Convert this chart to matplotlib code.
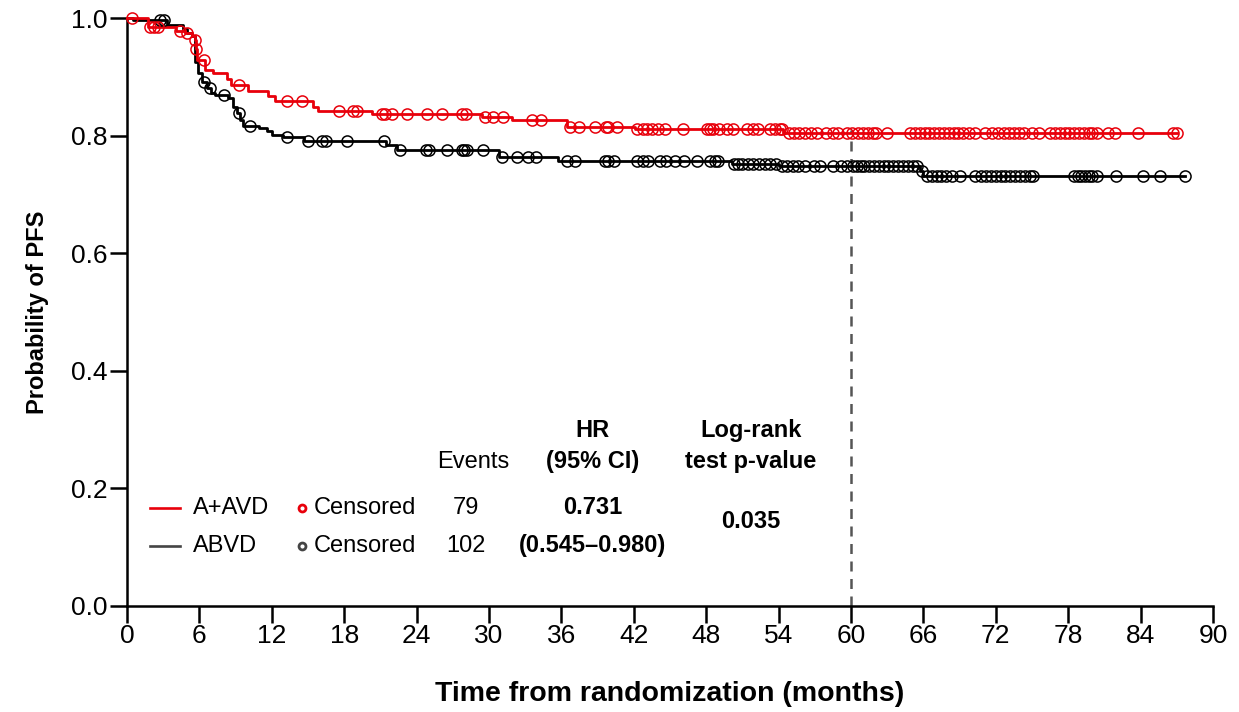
import numpy as np
import matplotlib.pyplot as plt

plt.rcParams['font.family'] = ['Liberation Sans', 'DejaVu Sans']

# step functions (time in months, survival probability)
red_t = [0, 1.7, 4.1, 4.8, 5.4, 5.6, 5.7, 5.8, 6.5, 7.1, 8.3, 8.6, 10.0, 11.7, 12.3,
         15.4, 15.8, 20.3, 29.4, 31.9, 36.5, 42.1, 54.4, 87.0]
red_s = [1.0, 0.984, 0.978, 0.974, 0.969, 0.963, 0.947, 0.929, 0.912, 0.907, 0.897,
         0.886, 0.876, 0.867, 0.858, 0.849, 0.842, 0.837, 0.832, 0.826, 0.815, 0.811,
         0.805, 0.805]
black_t = [0, 0.5, 3.3, 4.6, 5.0, 5.4, 5.6, 5.9, 6.2, 6.6, 7.0, 7.3, 8.4, 8.8, 9.1,
           9.4, 9.6, 10.9, 11.6, 12.0, 12.9, 14.7, 21.5, 22.4, 30.8, 35.7, 50.1, 54.0,
           65.7, 66.0, 87.7]
black_s = [1.0, 0.997, 0.988, 0.981, 0.975, 0.970, 0.926, 0.906, 0.892, 0.881, 0.872,
           0.869, 0.864, 0.849, 0.838, 0.827, 0.816, 0.813, 0.807, 0.801, 0.797, 0.790,
           0.784, 0.776, 0.764, 0.757, 0.752, 0.749, 0.740, 0.731, 0.731]

# censoring times
red_cens = [0.4, 1.9, 2.2, 2.6, 4.4, 5.0, 5.65, 5.75, 6.4, 9.3, 13.3, 14.5, 17.6, 18.7,
            19.1, 21.1, 21.4, 22.0, 23.2, 24.9, 26.1, 27.8, 28.1, 29.7, 30.3, 31.2,
            33.6, 34.3, 36.7, 37.5, 38.8, 39.7, 39.9, 40.6, 42.3, 42.8, 43.1, 43.5,
            44.0, 44.6, 46.1, 48.1, 48.3, 48.6, 49.1, 49.7, 50.2, 51.4, 51.9, 52.3,
            53.3, 53.7, 54.1, 54.3, 54.9, 55.3, 55.7, 56.2, 56.7, 57.2, 57.9, 58.5,
            58.9, 59.7, 60.1, 60.6, 61.0, 61.4, 61.8, 62.1, 63.0, 64.9, 65.3, 65.7,
            66.1, 66.5, 66.9, 67.3, 67.7, 68.1, 68.5, 68.9, 69.3, 69.8, 70.3, 71.1,
            71.7, 72.2, 72.7, 73.1, 73.5, 73.9, 74.3, 75.0, 75.6, 76.5, 76.9, 77.3,
            77.7, 78.1, 78.5, 78.9, 79.3, 79.7, 80.0, 80.4, 81.3, 81.9, 83.8, 86.7, 87.0]
black_cens = [2.7, 3.1, 6.4, 6.9, 8.0, 9.3, 10.2, 13.3, 15.0, 16.2, 16.5, 18.2, 21.3,
              22.6, 24.8, 25.0, 26.5, 27.8, 27.9, 28.2, 29.5, 31.1, 32.3, 33.2, 33.9,
              36.5, 37.1, 39.6, 39.9, 40.4, 42.3, 42.8, 43.2, 44.2, 44.7, 45.4, 46.2,
              47.2, 48.3, 48.7, 49.0, 50.3, 50.6, 51.0, 51.5, 51.9, 52.4, 52.9, 53.3,
              53.8, 54.3, 54.7, 55.2, 55.6, 56.2, 56.9, 57.4, 58.5, 59.2, 59.7, 60.2,
              60.5, 60.8, 61.1, 61.5, 61.9, 62.3, 62.7, 63.1, 63.5, 63.9, 64.3, 64.7,
              65.1, 65.5, 65.9, 66.3, 66.7, 67.1, 67.5, 67.9, 68.4, 69.0, 70.3, 70.8,
              71.2, 71.6, 72.0, 72.4, 72.8, 73.2, 73.6, 74.0, 74.4, 74.8, 75.1, 78.5,
              78.8, 79.1, 79.4, 79.7, 80.0, 80.4, 82.0, 84.2, 85.6, 87.7]

arms = ['A+AVD', 'ABVD']
events = ['79', '102']
hr_text = ['0.731', '(0.545\u20130.980)']
p_value = '0.035'

RED = '#e8000b'
BLACK = '#000000'


def surv_at(t_steps, s_steps, times):
    idx = np.searchsorted(t_steps, times, side='right') - 1
    return np.array(s_steps)[idx]


fig, ax = plt.subplots(figsize=(12.39, 7.12), dpi=100)
fig.subplots_adjust(left=0.1025, right=0.979, bottom=0.149, top=0.9747)

ax.axvline(60, ymin=0, ymax=0.81, color='#555555', linestyle=(0, (4, 3)), lw=1.8)

for t, s, cens, col in [(black_t, black_s, black_cens, BLACK), (red_t, red_s, red_cens, RED)]:
    ax.step(t, s, where='post', color=col, lw=2.0, clip_on=False, zorder=3)
    ax.plot(cens, surv_at(t, s, cens), 'o', mfc='none', mec=col, ms=8, mew=1.1,
            clip_on=False, zorder=4)

ax.set_xlim(0, 90)
ax.set_ylim(0, 1.0)
ax.set_xticks(np.arange(0, 91, 6))
ax.set_yticks(np.arange(0, 1.01, 0.2))
ax.set_yticklabels([f'{v:.1f}' for v in np.arange(0, 1.01, 0.2)])
ax.spines['top'].set_visible(False)
ax.spines['right'].set_visible(False)
for sp in ['left', 'bottom']:
    ax.spines[sp].set_linewidth(1.8)
ax.tick_params(axis='both', direction='out', width=1.8, labelsize=19)
ax.tick_params(axis='x', length=12, pad=1)
ax.tick_params(axis='y', length=12, pad=2)

ax.set_xlabel('Time from randomization (months)', fontsize=20.5, fontweight='bold', labelpad=24)
ax.set_ylabel('Probability of PFS', fontsize=17, fontweight='bold', labelpad=16)

# table-style legend
fs = 17
ax.text(28.7, 0.245, 'Events', ha='center', va='center', fontsize=fs)
ax.text(38.6, 0.299, 'HR', ha='center', va='center', fontsize=fs, fontweight='bold')
ax.text(38.6, 0.245, '(95% CI)', ha='center', va='center', fontsize=fs, fontweight='bold')
ax.text(51.7, 0.299, 'Log-rank', ha='center', va='center', fontsize=fs, fontweight='bold')
ax.text(51.7, 0.245, 'test p-value', ha='center', va='center', fontsize=fs, fontweight='bold')

row_y = [0.167, 0.102]
leg_cols = [RED, '#444444']
for i in range(2):
    y = row_y[i]
    ax.plot([1.9, 4.4], [y, y], color=leg_cols[i], lw=1.9)
    ax.text(5.5, y, arms[i], ha='left', va='center', fontsize=fs)
    ax.plot([14.5], [y], 'o', mfc='none', mec=leg_cols[i], ms=5, mew=2)
    ax.text(15.5, y, 'Censored', ha='left', va='center', fontsize=fs)
    ax.text(28.1, y, events[i], ha='center', va='center', fontsize=fs)
    ax.text(38.6, y, hr_text[i], ha='center', va='center', fontsize=fs, fontweight='bold')
ax.text(51.7, 0.143, p_value, ha='center', va='center', fontsize=fs, fontweight='bold')

fig.savefig('out.png', dpi=100)
